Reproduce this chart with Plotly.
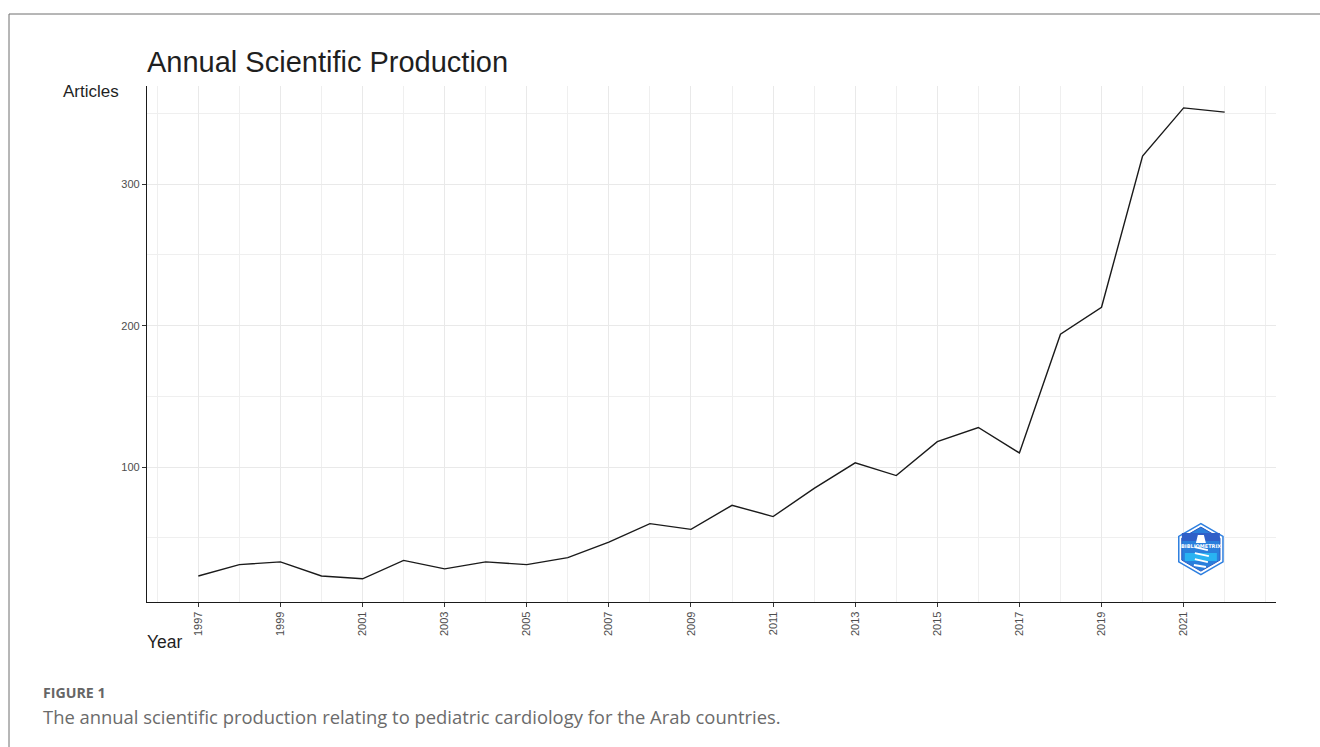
import math
import plotly.graph_objects as go

# Annual article counts
years = list(range(1997, 2023))
articles = [23, 31, 33, 23, 21, 34, 28, 33, 31, 36, 47, 60, 56, 73, 65,
            85, 103, 94, 118, 128, 110, 194, 213, 320, 354, 351]

x_tick_years = list(range(1997, 2022, 2))
y_tick_values = [100, 200, 300]

title_text = "Annual Scientific Production"
y_label = "Articles"
x_label = "Year"
fig_label = "FIGURE 1"
caption = "The annual scientific production relating to pediatric cardiology for the Arab countries."

W, H = 1320, 747
ML, MR, MT, MB = 147, 44, 86, 145
PW, PH = W - ML - MR, H - MT - MB


def px_x(px):
    return (px - ML) / PW


def px_y(py):
    return (H - MB - py) / PH


fig = go.Figure()
fig.add_trace(go.Scatter(
    x=years, y=articles, mode="lines",
    line=dict(color="#1a1a1a", width=1.4),
    hoverinfo="x+y", showlegend=False,
))

grid_major = "#e9e9e9"
grid_minor = "#efefef"
tick_font = dict(family="Liberation Sans", size=11, color="#4d4d4d")

fig.update_xaxes(
    range=[1995.75, 2023.25],
    tickvals=x_tick_years, ticktext=[str(v) for v in x_tick_years],
    tickangle=-90, tickfont=tick_font,
    showline=True, linecolor="#1a1a1a", linewidth=1.3,
    ticks="outside", ticklen=4, tickcolor="#333333", tickwidth=1,
    showgrid=True, gridcolor=grid_major, gridwidth=1,
    minor=dict(dtick=1, tick0=1996, showgrid=True, gridcolor=grid_minor, gridwidth=1, ticks=""),
    zeroline=False, fixedrange=True,
)
fig.update_yaxes(
    range=[4.6, 369.5],
    tickvals=y_tick_values, tickfont=tick_font,
    showline=True, linecolor="#1a1a1a", linewidth=1.3,
    ticks="outside", ticklen=4, tickcolor="#333333", tickwidth=1,
    showgrid=True, gridcolor=grid_major, gridwidth=1,
    minor=dict(dtick=50, tick0=0, showgrid=True, gridcolor=grid_minor, gridwidth=1, ticks=""),
    zeroline=False, fixedrange=True,
)

annotations = [
    dict(text=title_text, x=px_x(145), y=px_y(62), xanchor="left", yanchor="middle",
         font=dict(family="Liberation Sans", size=29, color="#1f1f1f")),
    dict(text=y_label, x=px_x(91), y=px_y(91), xanchor="center", yanchor="middle",
         font=dict(family="Liberation Sans", size=17, color="#1f1f1f")),
    dict(text=x_label, x=px_x(145), y=px_y(642), xanchor="left", yanchor="middle",
         font=dict(family="Liberation Sans", size=17.5, color="#1f1f1f")),
    dict(text="<b>" + fig_label + "</b>", x=px_x(41), y=px_y(692), xanchor="left", yanchor="middle",
         font=dict(family="Open Sans", size=14.2, color="#666666")),
    dict(text=caption, x=px_x(41), y=px_y(716), xanchor="left", yanchor="middle",
         font=dict(family="Open Sans", size=18.4, color="#6b6b6b")),
    dict(text="<b>BIBLIOMETRIX</b>", x=2021.42, y=44.5, xref="x", yref="y",
         xanchor="center", yanchor="middle",
         font=dict(family="DejaVu Sans", size=5, color="white")),
]
for a in annotations:
    a.setdefault("xref", "paper")
    a.setdefault("yref", "paper")
    a["showarrow"] = False


def hexagon(r):
    pts = []
    for k in range(6):
        ang = math.radians(90 + 60 * k)
        pts.append((r * math.cos(ang), r * math.sin(ang)))
    return "M " + " L ".join(f"{x:.1f},{y:.1f}" for x, y in pts) + " Z"


logo_anchor = dict(xref="x", yref="y", xanchor=2021.42, yanchor=42,
                   xsizemode="pixel", ysizemode="pixel")

shapes = [
    # outer frame around the figure
    dict(type="rect", xref="paper", yref="paper",
         x0=px_x(9), x1=px_x(1340), y0=px_y(14), y1=px_y(760),
         line=dict(color="#6e6e6e", width=1), fillcolor="rgba(0,0,0,0)", layer="below"),
    # bibliometrix badge
    dict(type="path", path=hexagon(25.5), fillcolor="white",
         line=dict(color="#2d7fe0", width=1.5), **logo_anchor),
    dict(type="path", path=hexagon(22), fillcolor="#2a7fdc",
         line=dict(color="#2a5cc4", width=1), **logo_anchor),
    dict(type="path", path="M -19,8 L 19,8 L 19,16 L -19,16 Z", fillcolor="#2f5fc8",
         line=dict(width=0), **logo_anchor),
    dict(type="path", path="M -16,-4 L 16,-4 L 16,-12 L -16,-12 Z", fillcolor="#29b3f2",
         line=dict(width=0), **logo_anchor),
    dict(type="path", path="M -3,14 L 3,14 L 5,6 L -5,6 Z", fillcolor="white",
         line=dict(width=0), **logo_anchor),
    dict(type="path", path="M -6,2 L 7,-1 M -6,-4 L 8,-7 M -6,-10 L 7,-13 M -7,-16 L 5,-18",
         line=dict(color="white", width=2), **logo_anchor),
]

fig.update_layout(
    width=W, height=H,
    margin=dict(l=ML, r=MR, t=MT, b=MB, pad=0),
    paper_bgcolor="white", plot_bgcolor="white",
    annotations=annotations, shapes=shapes,
    showlegend=False,
)

fig.write_html("out.html")
